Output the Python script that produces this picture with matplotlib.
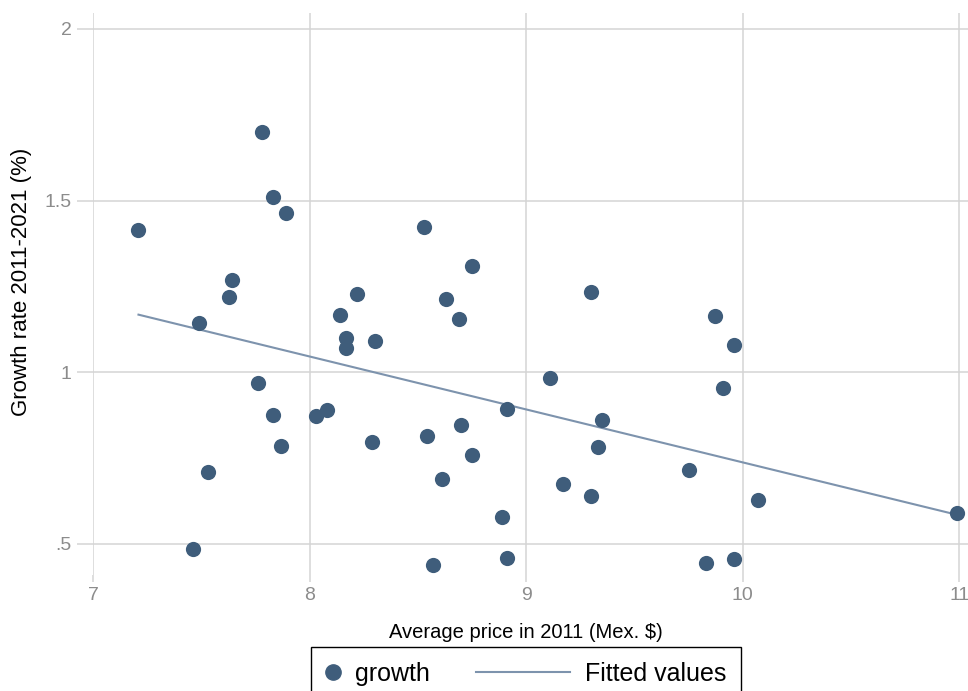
"""Growth rate 2011-2021 vs. average price in 2011, with linear fit (Stata-like look)."""

import matplotlib
matplotlib.use("Agg")
import matplotlib.pyplot as plt
from matplotlib.legend_handler import HandlerLine2D
from matplotlib.lines import Line2D

# values
price = [7.21, 7.49, 7.53, 7.46, 7.63, 7.64, 7.76, 7.78, 7.83, 7.89,
         7.83, 7.87, 8.03, 8.08, 8.14, 8.17, 8.17, 8.22, 8.30, 8.29,
         8.53, 8.54, 8.57, 8.61, 8.63, 8.69, 8.70, 8.75, 8.75, 8.89,
         8.91, 8.91, 9.11, 9.17, 9.30, 9.30, 9.33, 9.35, 9.75, 9.83,
         9.87, 9.96, 9.91, 9.96, 10.07, 10.99]
growth = [1.416, 1.145, 0.709, 0.485, 1.22, 1.27, 0.968, 1.70, 1.51, 1.465,
          0.875, 0.785, 0.872, 0.89, 1.166, 1.10, 1.07, 1.227, 1.09, 0.797,
          1.424, 0.814, 0.44, 0.689, 1.215, 1.154, 0.846, 1.31, 0.759, 0.578,
          0.892, 0.459, 0.983, 0.674, 1.235, 0.64, 0.782, 0.86, 0.715, 0.445,
          1.163, 1.08, 0.953, 0.456, 0.628, 0.59]

fit_x = [7.21, 10.99]
fit_y = [1.168, 0.585]

x_ticks = [7, 8, 9, 10, 11]
y_ticks = [0.5, 1.0, 1.5, 2.0]
y_tick_labels = [".5", "1", "1.5", "2"]

DOT_COLOR = "#3f5d7b"
FIT_COLOR = "#7d93ad"
GRID_COLOR = "#d4d4d4"
TICK_TEXT = "#8c8c8c"


class NarrowHandler(HandlerLine2D):
    """Marker legend entry with a narrower handle box than the line entry."""

    def __init__(self, box_width, **kw):
        super().__init__(**kw)
        self.box_width = box_width

    def legend_artist(self, legend, orig_handle, fontsize, handlebox):
        handlebox.width = self.box_width
        return super().legend_artist(legend, orig_handle, fontsize, handlebox)


plt.rcParams["font.family"] = ["Liberation Sans", "DejaVu Sans"]

W, H = 968, 691
fig = plt.figure(figsize=(W / 100, H / 100), dpi=100)

# plot region in pixels: x 93..968, y 13..575
left, right, top, bottom = 93, 968, 13, 575
ax = fig.add_axes([left / W, 1 - bottom / H, (right - left) / W, (bottom - top) / H])

ax.scatter(price, growth, s=120, color=DOT_COLOR, zorder=3, linewidths=0)
ax.plot(fit_x, fit_y, color=FIT_COLOR, lw=1.5, zorder=2)

ax.set_xlim(7, 11.04)
ax.set_ylim(0.4097, 2.0466)
ax.set_xticks(x_ticks)
ax.set_xticklabels([str(t) for t in x_ticks])
ax.set_yticks(y_ticks)
ax.set_yticklabels(y_tick_labels)

for s in ax.spines.values():
    s.set_visible(False)
ax.grid(True, color=GRID_COLOR, lw=1.1, zorder=0)
ax.set_axisbelow(True)
ax.tick_params(axis="y", direction="out", length=11.5, width=1.1, color=GRID_COLOR,
               labelcolor=TICK_TEXT, labelsize=14, pad=4)
ax.tick_params(axis="x", direction="out", length=5, width=1.1, color=GRID_COLOR,
               labelcolor=TICK_TEXT, labelsize=14, pad=4)

fig.text(526 / W, 1 - 632 / H, "Average price in 2011 (Mex. $)", fontsize=14.5,
         ha="center", va="center", color="black")
fig.text(22 / W, 1 - 282 / H, "Growth rate 2011-2021 (%)", fontsize=16,
         rotation=90, ha="center", va="center", color="black")

dot_handle = Line2D([], [], marker="o", ls="none", color=DOT_COLOR, markersize=11)
fit_handle = Line2D([], [], color=FIT_COLOR, lw=1.5)
leg = fig.legend([dot_handle, fit_handle], ["growth", "Fitted values"],
                 loc="upper center", bbox_to_anchor=(526 / W, 1 - 647 / H),
                 ncol=2, fontsize=18, frameon=True, fancybox=False,
                 edgecolor="black", framealpha=1, borderaxespad=0,
                 handlelength=3.75, handletextpad=0.6, columnspacing=1.85,
                 borderpad=0.6,
                 handler_map={dot_handle: NarrowHandler(10, numpoints=1)})
leg.get_frame().set_linewidth(1.0)

fig.savefig("out.png", dpi=100)
